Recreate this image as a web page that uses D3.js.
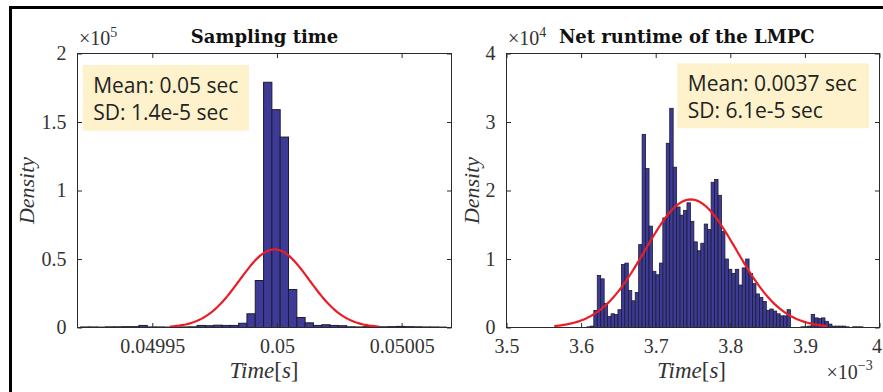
<!DOCTYPE html>
<html><head><meta charset="utf-8">
<script src="https://cdn.jsdelivr.net/npm/d3@7"></script>
<style>
html,body{margin:0;padding:0;background:#fff;}
svg{display:block;}
</style></head>
<body>
<div id="chart"></div>
<script>
// ---------- data ----------
// Left panel: sampling time histogram (density x 1e5)
const leftBinStart = 0.0499213;     // s
const leftBinWidth = 3.333e-6;      // s
const leftDensity = [0.004,0.004,0.003,0.005,0.005,0.006,0.006,0.015,0.004,0.004,0.003,0.003,0.004,0.005,0.015,0.013,0.017,0.015,0.015,0.031,0.10,0.343,1.79,1.59,1.39,0.277,0.073,0.034,0.015,0.02,0.015,0.013,0.005,0.004,0.006,0.004,0.005,0.006,0.008,0.006,0.005,0.004,0.004,0.003];
const leftFit = {mean: 0.049999, sd: 1.4e-5, peak: 0.57};
const leftXTicks = [0.04995, 0.05, 0.05005];
const leftXTickLabels = ["0.04995", "0.05", "0.05005"];
const leftYTicks = [0, 0.5, 1, 1.5, 2];
const leftYTickLabels = ["0", "0.5", "1", "1.5", "2"];
const leftXDomain = [0.04992, 0.05007];
const leftYDomain = [0, 2];
const leftStats = ["Mean: 0.05 sec", "SD: 1.4e-5 sec"];

// Right panel: net runtime of the LMPC (density x 1e4)
const rightBinStart = 3.6078e-3;    // s
const rightBinWidth = 4.625e-6;     // s
const rightDensity = [0.01,0.02,0.25,0.76,0.71,0.35,0.16,0.20,0.19,0.26,0.92,0.94,0.54,0.39,0.51,1.21,2.82,2.32,1.48,0.82,0.77,0.94,1.6,2.69,3.2,2.34,1.76,1.64,1.71,1.82,1.55,1.25,1.12,1.23,1.51,1.43,2.12,2.16,1.93,1.40,1.0,0.85,0.79,0.85,0.62,0.87,1.0,0.79,0.64,0.49,0.44,0.38,0.25,0.27,0.24,0.2,0.17,0.17,0.26,0,0,0,0.01,0.01,0.02,0.19,0.14,0.13,0.14,0.09,0.05,0.02,0.02,0.02,0.02,0.01,0,0.01,0.01,0.01];
const rightFit = {mean: 3.747e-3, sd: 6.1e-5, peak: 1.87};
const rightXTicks = [3.5e-3, 3.6e-3, 3.7e-3, 3.8e-3, 3.9e-3, 4.0e-3];
const rightXTickLabels = ["3.5", "3.6", "3.7", "3.8", "3.9", "4"];
const rightYTicks = [0, 1, 2, 3, 4];
const rightYTickLabels = ["0", "1", "2", "3", "4"];
const rightXDomain = [3.5e-3, 4.0e-3];
const rightYDomain = [0, 4];
const rightStats = ["Mean: 0.0037 sec", "SD: 6.1e-5 sec"];

// ---------- drawing ----------
const W = 883, H = 392;
const svg = d3.select("#chart").append("svg").attr("width", W).attr("height", H);

// outer frame
svg.append("rect").attr("x", 10.5).attr("y", 7.5).attr("width", 900).attr("height", 420)
  .attr("fill", "none").attr("stroke", "#000").attr("stroke-width", 3);

const axisColor = "#2b2b2b";
const tickFont = "'Liberation Serif', 'Times New Roman', serif";

function panel(cfg) {
  const x = d3.scaleLinear().domain(cfg.xDomain).range([cfg.left, cfg.right]);
  const y = d3.scaleLinear().domain(cfg.yDomain).range([cfg.bottom, cfg.top]);
  const g = svg.append("g");

  // bars
  const bins = cfg.density.map((d, i) => ({x0: cfg.binStart + i * cfg.binWidth, x1: cfg.binStart + (i + 1) * cfg.binWidth, v: d}));
  g.append("g").selectAll("rect").data(bins).join("rect")
    .attr("x", d => x(d.x0))
    .attr("width", d => x(d.x1) - x(d.x0))
    .attr("y", d => y(d.v))
    .attr("height", d => y(0) - y(d.v))
    .attr("fill", "#3d3a98")
    .attr("stroke", "#1c1c2e")
    .attr("stroke-width", cfg.barStroke);

  // fitted normal curve
  const f = cfg.fit;
  const xs = d3.range(-3, 3.0001, 0.05).map(k => f.mean + k * f.sd);
  const line = d3.line().x(t => x(t)).y(t => y(f.peak * Math.exp(-((t - f.mean) ** 2) / (2 * f.sd * f.sd))));
  g.append("path").datum(xs).attr("d", line).attr("fill", "none")
    .attr("stroke", "#ec1c24").attr("stroke-width", 2.2);

  // axes box
  g.append("rect").attr("x", cfg.left).attr("y", cfg.top)
    .attr("width", cfg.right - cfg.left).attr("height", cfg.bottom - cfg.top)
    .attr("fill", "none").attr("stroke", axisColor).attr("stroke-width", 1);

  const tl = 4.5;
  // x ticks (bottom and top, inward)
  const xAxB = d3.axisBottom(x).tickValues(cfg.xTicks).tickSize(-tl).tickPadding(14)
    .tickFormat((d, i) => cfg.xTickLabels[i]);
  const gxb = g.append("g").attr("transform", `translate(0,${cfg.bottom})`).call(xAxB);
  const xAxT = d3.axisTop(x).tickValues(cfg.xTicks).tickSize(-tl).tickFormat("");
  const gxt = g.append("g").attr("transform", `translate(0,${cfg.top})`).call(xAxT);
  // y ticks (left and right, inward)
  const yAxL = d3.axisLeft(y).tickValues(cfg.yTicks).tickSize(-tl).tickPadding(11)
    .tickFormat((d, i) => cfg.yTickLabels[i]);
  const gyl = g.append("g").attr("transform", `translate(${cfg.left},0)`).call(yAxL);
  const yAxR = d3.axisRight(y).tickValues(cfg.yTicks).tickSize(-tl).tickFormat("");
  const gyr = g.append("g").attr("transform", `translate(${cfg.right},0)`).call(yAxR);
  [gxb, gxt, gyl, gyr].forEach(a => {
    a.select(".domain").remove();
    a.selectAll("line").attr("stroke", axisColor);
    a.selectAll("text").attr("fill", "#333").style("font-family", tickFont).style("font-size", "20px");
  });
  gxb.selectAll("text").attr("dy", null).attr("y", 25);
  if (cfg.lastXLabelShift) {
    gxb.selectAll(".tick text").filter((d, i, n) => i === n.length - 1).attr("x", cfg.lastXLabelShift);
  }

  // y exponent label
  const ex = g.append("text").attr("x", cfg.expX).attr("y", cfg.expY)
    .style("font-family", tickFont).style("font-size", "20px").attr("fill", "#333");
  ex.append("tspan").text("×10");
  ex.append("tspan").attr("dy", -8).style("font-size", "14px").text(cfg.yExp);

  // title
  g.append("text").attr("x", cfg.titleX).attr("y", 43).attr("text-anchor", "middle")
    .style("font-family", "'DejaVu Serif', serif").style("font-weight", "bold")
    .style("font-size", "18px").attr("fill", "#111").text(cfg.title);

  // axis labels
  const xl = g.append("text").attr("x", cfg.xLabelX).attr("y", 378).attr("text-anchor", "middle")
    .style("font-family", tickFont).style("font-style", "italic").style("font-size", "23px").attr("fill", "#333");
  xl.append("tspan").text("Time");
  xl.append("tspan").style("font-style", "normal").text("[");
  xl.append("tspan").text("s");
  xl.append("tspan").style("font-style", "normal").text("]");
  g.append("text").attr("transform", `translate(${cfg.yLabelX},${(cfg.top + cfg.bottom) / 2}) rotate(-90)`)
    .attr("text-anchor", "middle")
    .style("font-family", tickFont).style("font-style", "italic").style("font-size", "22px").attr("fill", "#333")
    .text("Density");

  // stats box
  const b = cfg.box;
  g.append("rect").attr("x", b.x).attr("y", b.y).attr("width", b.w).attr("height", b.h).attr("fill", "#fdf2cb");
  cfg.stats.forEach((s, i) => {
    g.append("text").attr("x", b.x + 10.5).attr("y", b.y + 27.5 + i * 27.5)
      .style("font-family", "'Open Sans', 'Noto Sans', sans-serif").style("font-size", "21px").attr("fill", "#222").text(s);
  });
  return {x, y};
}

panel({
  left: 77.5, right: 451.5, top: 53.5, bottom: 327.5,
  xDomain: leftXDomain, yDomain: leftYDomain,
  binStart: leftBinStart, binWidth: leftBinWidth, density: leftDensity, barStroke: 1,
  fit: leftFit, xTicks: leftXTicks, xTickLabels: leftXTickLabels,
  yTicks: leftYTicks, yTickLabels: leftYTickLabels,
  yExp: "5", expX: 79, expY: 45,
  title: "Sampling time", titleX: 264.5, yLabelX: 34, xLabelX: 264,
  box: {x: 82.7, y: 65, w: 166.3, h: 65.7}, stats: leftStats
});

panel({
  left: 506.5, right: 879.5, top: 53.5, bottom: 327.5,
  xDomain: rightXDomain, yDomain: rightYDomain,
  binStart: rightBinStart, binWidth: rightBinWidth, density: rightDensity, barStroke: 0.8,
  fit: rightFit, xTicks: rightXTicks, xTickLabels: rightXTickLabels,
  yTicks: rightYTicks, yTickLabels: rightYTickLabels,
  yExp: "4", expX: 508, expY: 45, lastXLabelShift: -3,
  title: "Net runtime of the LMPC", titleX: 686.7, yLabelX: 479, xLabelX: 691.5,
  box: {x: 677.3, y: 63.3, w: 191.7, h: 65}, stats: rightStats
});

// x exponent for the right panel
const xe = svg.append("text").attr("x", 826.5).attr("y", 378.5)
  .style("font-family", tickFont).style("font-size", "20px").attr("fill", "#333");
xe.append("tspan").text("×10");
xe.append("tspan").attr("dy", -9).style("font-size", "14px").text("−3");
</script>
</body></html>
